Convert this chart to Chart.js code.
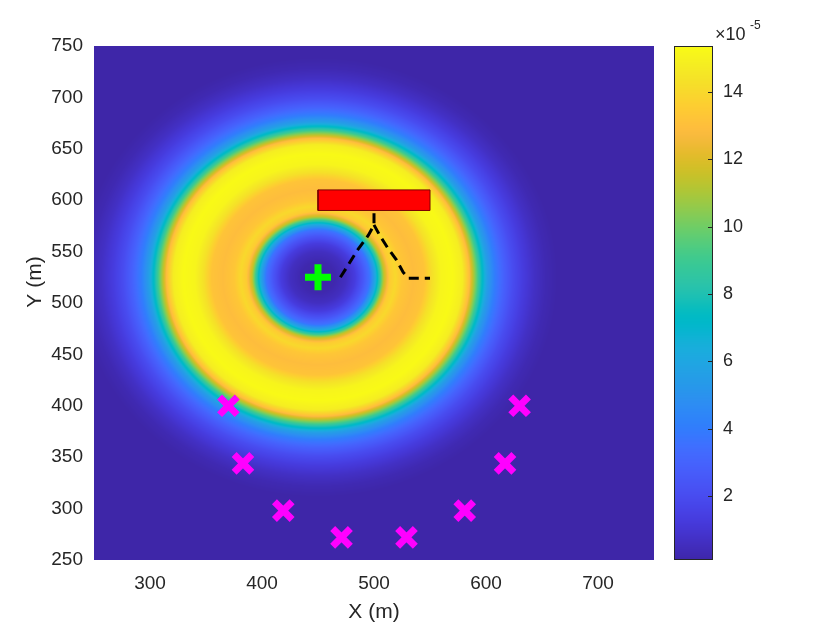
<!DOCTYPE html>
<html><head><meta charset="utf-8">
<script src="https://cdn.jsdelivr.net/npm/chart.js@4.4.0/dist/chart.umd.min.js"></script>
<style>
html,body{margin:0;padding:0;background:#fff;}
#wrap{position:relative;width:840px;height:630px;background:#fff;}
canvas{position:absolute;left:0;top:0;}
</style></head><body>
<div id="wrap"><canvas id="main" width="840" height="630"></canvas><canvas id="cb" width="840" height="630"></canvas></div>
<script>
// ---- data ----
const xTicks = [300, 400, 500, 600, 700];
const yTicks = [250, 300, 350, 400, 450, 500, 550, 600, 650, 700, 750];
const cbTicks = [2, 4, 6, 8, 10, 12, 14];
const cbMin = 0.1, cbMax = 15.36;           // colour limits (x 1e-5)
const ringCenterX = 450, ringCenterY = 525;  // centre of the field pattern (m)
// radial profile of the field (distance from centre in m -> value x 1e-5)
const profileR = [0, 15, 25, 33, 40, 46, 51, 55, 59, 64, 69, 75, 85, 95, 102, 110, 120, 129, 135, 140, 145, 151, 158, 166, 174, 183, 193, 203, 213, 400];
const profileV = [0.1, 0.2, 0.6, 1.3, 2.4, 3.6, 6.0, 8.5, 11.5, 13.5, 14.0, 13.3, 12.9, 13.2, 14.3, 15.1, 15.3, 14.8, 13.0, 10.5, 8.0, 5.6, 4.0, 2.9, 2.0, 1.3, 0.7, 0.3, 0.1, 0.1];
const anchorX = [370, 383, 419, 471, 529, 581, 617, 630];
const anchorY = [400, 344, 298, 272, 272, 298, 344, 400];
const targetX = [450];
const targetY = [525];
const rectX = [450, 550, 550, 450, 450];
const rectY = [590, 590, 610, 610, 590];
const pathAX = [470, 477, 485, 495, 500, 500];
const pathAY = [525, 537, 551, 566, 576, 589];
const pathBX = [500, 505, 512, 520, 526, 531, 550];
const pathBY = [576, 566, 554, 542, 530, 524, 524];

// ---- parula colormap (style) ----
const PARULA = [[0.2422,0.1504,0.6603],[0.2504,0.1650,0.7076],[0.2578,0.1818,0.7511],[0.2647,0.1978,0.7952],[0.2706,0.2147,0.8364],[0.2751,0.2342,0.8710],[0.2783,0.2559,0.8991],[0.2803,0.2782,0.9221],[0.2813,0.3006,0.9414],[0.2810,0.3228,0.9579],[0.2795,0.3447,0.9717],[0.2760,0.3667,0.9829],[0.2699,0.3892,0.9906],[0.2602,0.4123,0.9952],[0.2440,0.4358,0.9988],[0.2206,0.4603,0.9973],[0.1963,0.4847,0.9892],[0.1834,0.5074,0.9798],[0.1786,0.5289,0.9682],[0.1764,0.5499,0.9520],[0.1687,0.5703,0.9359],[0.1540,0.5902,0.9218],[0.1460,0.6091,0.9079],[0.1380,0.6276,0.8973],[0.1248,0.6459,0.8883],[0.1113,0.6635,0.8763],[0.0952,0.6798,0.8598],[0.0689,0.6948,0.8394],[0.0297,0.7082,0.8163],[0.0036,0.7203,0.7917],[0.0067,0.7312,0.7660],[0.0433,0.7411,0.7394],[0.0964,0.7500,0.7120],[0.1408,0.7584,0.6842],[0.1717,0.7670,0.6554],[0.1938,0.7758,0.6251],[0.2161,0.7843,0.5923],[0.2470,0.7918,0.5567],[0.2906,0.7973,0.5188],[0.3406,0.8008,0.4789],[0.3909,0.8029,0.4354],[0.4456,0.8024,0.3909],[0.5044,0.7993,0.3480],[0.5616,0.7942,0.3045],[0.6174,0.7876,0.2612],[0.6720,0.7793,0.2227],[0.7242,0.7698,0.1910],[0.7738,0.7598,0.1646],[0.8203,0.7498,0.1535],[0.8634,0.7406,0.1596],[0.9035,0.7330,0.1774],[0.9393,0.7288,0.2100],[0.9728,0.7298,0.2394],[0.9956,0.7434,0.2371],[0.9970,0.7659,0.2199],[0.9952,0.7893,0.2028],[0.9892,0.8136,0.1885],[0.9786,0.8386,0.1766],[0.9676,0.8639,0.1643],[0.9610,0.8890,0.1537],[0.9597,0.9135,0.1423],[0.9628,0.9373,0.1265],[0.9691,0.9606,0.1064],[0.9769,0.9839,0.0805]];
function parula(t){
  t = Math.max(0, Math.min(1, t));
  const f = t * (PARULA.length - 1);
  const i = Math.min(PARULA.length - 2, Math.floor(f));
  const u = f - i;
  const a = PARULA[i], b = PARULA[i + 1];
  return [0,1,2].map(k => Math.round(255 * (a[k] + (b[k] - a[k]) * u)));
}
function profileAt(r){
  if (r <= profileR[0]) return profileV[0];
  for (let i = 1; i < profileR.length; i++) {
    if (r <= profileR[i]) {
      const u = (r - profileR[i-1]) / (profileR[i] - profileR[i-1]);
      return profileV[i-1] + (profileV[i] - profileV[i-1]) * u;
    }
  }
  return profileV[profileV.length - 1];
}

const FONT = "'Liberation Sans', Arial, Helvetica, sans-serif";
const TXT = '#262626';

const heatPlugin = {
  id: 'heat',
  beforeDatasetsDraw(chart){
    const {ctx, chartArea: a, scales: {x, y}} = chart;
    const w = Math.round(a.right - a.left), h = Math.round(a.bottom - a.top);
    const off = document.createElement('canvas');
    off.width = w; off.height = h;
    const octx = off.getContext('2d');
    const img = octx.createImageData(w, h);
    const xs = [], ys = [];
    for (let i = 0; i < w; i++) xs.push(x.getValueForPixel(a.left + i + 0.5));
    for (let j = 0; j < h; j++) ys.push(y.getValueForPixel(a.top + j + 0.5));
    let p = 0;
    for (let j = 0; j < h; j++) {
      const dy = ys[j] - ringCenterY;
      for (let i = 0; i < w; i++) {
        const dx = xs[i] - ringCenterX;
        const v = profileAt(Math.sqrt(dx*dx + dy*dy));
        const c = parula((v - cbMin) / (cbMax - cbMin));
        img.data[p++] = c[0]; img.data[p++] = c[1]; img.data[p++] = c[2]; img.data[p++] = 255;
      }
    }
    octx.putImageData(img, 0, 0);
    ctx.save();
    ctx.drawImage(off, a.left, a.top, a.right - a.left, a.bottom - a.top);
    ctx.restore();
  },
  afterDraw(chart){
    const {ctx, chartArea: a} = chart;
    ctx.save();
    ctx.fillStyle = TXT;
    ctx.font = '21px ' + FONT;
    ctx.textAlign = 'center';
    ctx.textBaseline = 'alphabetic';
    ctx.fillText('X (m)', (a.left + a.right) / 2, 618);
    ctx.translate(41, 282);
    ctx.rotate(-Math.PI / 2);
    ctx.fillText('Y (m)', 0, 0);
    ctx.restore();
  }
};

const pts = (xs, ys) => xs.map((v, i) => ({x: v, y: ys[i]}));

new Chart(document.getElementById('main'), {
  type: 'scatter',
  data: {
    datasets: [
      {data: pts(targetX, targetY), pointStyle: 'cross', pointRadius: 13, pointBorderWidth: 7,
       borderColor: '#00ff00', backgroundColor: '#00ff00', pointHoverRadius: 13},
      {data: pts(anchorX, anchorY), pointStyle: 'crossRot', pointRadius: 12.5, pointBorderWidth: 7,
       borderColor: '#ff00ff', backgroundColor: '#ff00ff', pointHoverRadius: 12.5},
      {data: pts(pathAX, pathAY), showLine: true, borderColor: '#000', borderWidth: 3,
       borderDash: [10, 6], pointRadius: 0, tension: 0},
      {data: pts(pathBX, pathBY), showLine: true, borderColor: '#000', borderWidth: 3,
       borderDash: [10, 6], pointRadius: 0, tension: 0},
      {data: pts(rectX, rectY), showLine: true, borderColor: '#7a0000', borderWidth: 1,
       backgroundColor: '#ff0000', fill: 'shape', pointRadius: 0, tension: 0}
    ]
  },
  options: {
    responsive: false, animation: false, devicePixelRatio: 1,
    layout: {padding: {left: 0, top: 46, right: 186, bottom: 0}},
    plugins: {legend: {display: false}, tooltip: {enabled: false}},
    scales: {
      x: {type: 'linear', min: 250, max: 750,
          afterBuildTicks: s => { s.ticks = xTicks.map(v => ({value: v})); },
          afterFit: s => { s.height = 70; },
          grid: {display: false, drawTicks: false}, border: {display: false},
          ticks: {color: TXT, font: {family: FONT, size: 19}, padding: 12, maxRotation: 0}},
      y: {type: 'linear', min: 250, max: 750,
          afterBuildTicks: s => { s.ticks = yTicks.map(v => ({value: v})); },
          afterFit: s => { s.width = 94; },
          grid: {display: false, drawTicks: false}, border: {display: false},
          ticks: {color: TXT, font: {family: FONT, size: 19}, padding: 11}}
    }
  },
  plugins: [heatPlugin]
});

const cbPlugin = {
  id: 'cbar',
  beforeDatasetsDraw(chart){
    const {ctx, chartArea: a, scales: {y}} = chart;
    ctx.save();
    for (let py = Math.floor(a.top); py < a.bottom; py++) {
      const v = y.getValueForPixel(py + 0.5);
      const c = parula((v - cbMin) / (cbMax - cbMin));
      ctx.fillStyle = `rgb(${c[0]},${c[1]},${c[2]})`;
      ctx.fillRect(a.left, py, a.right - a.left, 1);
    }
    ctx.strokeStyle = '#262626';
    ctx.lineWidth = 1;
    ctx.strokeRect(a.left + 0.5, a.top + 0.5, a.right - a.left - 1, a.bottom - a.top - 1);
    ctx.beginPath();
    cbTicks.forEach(v => {
      const py = Math.round(y.getPixelForValue(v)) + 0.5;
      ctx.moveTo(a.right - 5, py); ctx.lineTo(a.right, py);
    });
    ctx.stroke();
    ctx.fillStyle = TXT;
    ctx.textBaseline = 'alphabetic';
    ctx.textAlign = 'left';
    ctx.font = '18px ' + FONT;
    ctx.fillText('\u00d710', 715, 40);
    ctx.font = '12px ' + FONT;
    ctx.fillText('-5', 750, 29);
    ctx.restore();
  }
};

new Chart(document.getElementById('cb'), {
  type: 'scatter',
  data: {datasets: []},
  options: {
    responsive: false, animation: false, devicePixelRatio: 1,
    layout: {padding: {left: 674, top: 46, right: 67, bottom: 70}},
    plugins: {legend: {display: false}, tooltip: {enabled: false}},
    scales: {
      x: {display: false, min: 0, max: 1},
      y: {type: 'linear', position: 'right', min: cbMin, max: cbMax,
          afterBuildTicks: s => { s.ticks = cbTicks.map(v => ({value: v})); },
          afterFit: s => { s.width = 60; },
          grid: {display: false, drawTicks: false}, border: {display: false},
          ticks: {color: TXT, font: {family: FONT, size: 18}, padding: 10}}
    }
  },
  plugins: [cbPlugin]
});
</script>
</body></html>
